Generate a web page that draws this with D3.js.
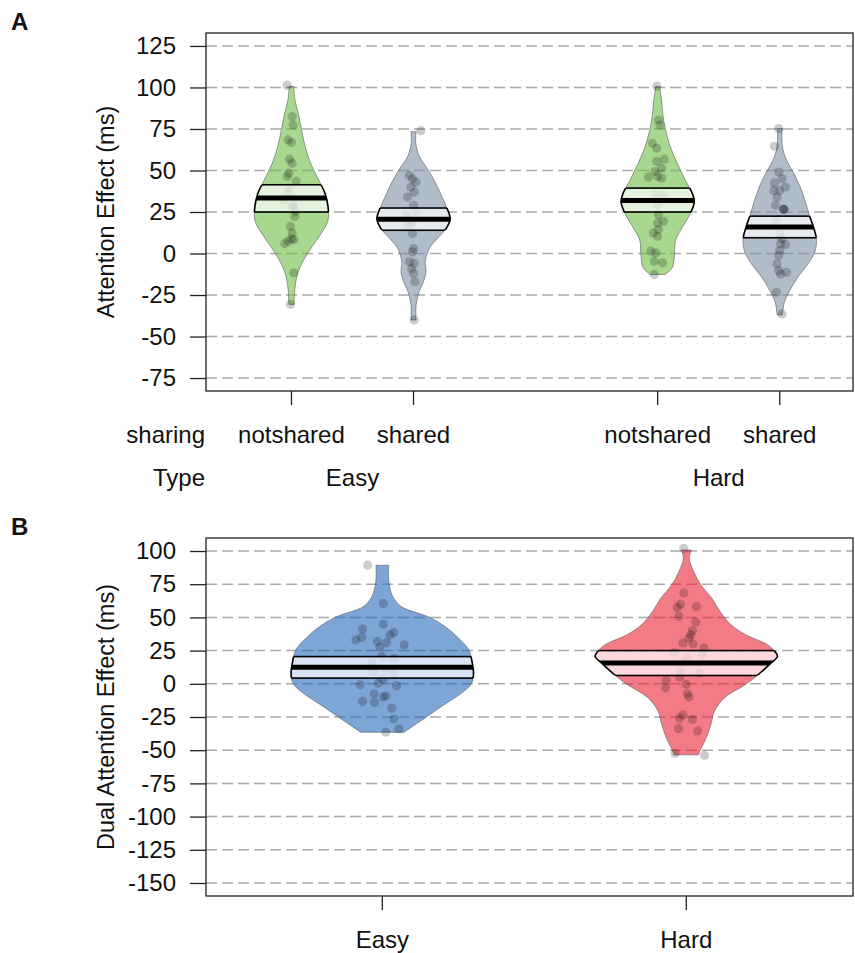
<!DOCTYPE html>
<html>
<head>
<meta charset="utf-8">
<script src="https://cdn.jsdelivr.net/npm/d3@7"></script>
<style>
  body { margin: 0; background: #fff; }
  text { font-family: "Liberation Sans", Arial, sans-serif; }
</style>
</head>
<body>
<script>
// ---- panel A data ----
var sharingLabels = ["notshared", "shared", "notshared", "shared"]
var typeLabels = ["Easy", "Hard"]
var beanPosA = [1, 2, 4, 5]
var typePosA = [1.5, 4.5]
var ticksA = [125, 100, 75, 50, 25, 0, -25, -50, -75]

// density outlines: [value, relative half width]
var densEasyNot = [[100.6, .06], [92, .10], [84, .19], [74, .28], [64, .38], [54, .53], [44, .75], [36, .92], [28, 1], [20, 1], [12, .81], [4, .56], [-4, .33], [-12, .17], [-20, .10], [-30.6, .07]]
var densEasyShared = [[73.4, .07], [67, .06], [59, .15], [51, .38], [43, .59], [35, .76], [27, .92], [21, 1], [15, .89], [9, .65], [3, .43], [-5, .32], [-11, .34], [-17, .27], [-23, .15], [-31, .07], [-40, .07]]
var densHardNot = [[100.6, .05], [92, .11], [84, .14], [74, .22], [64, .35], [54, .54], [44, .76], [36, .95], [31, 1], [24, .89], [16, .68], [8, .49], [0, .46], [-8, .41], [-10.5, .32], [-12.6, .2]]
var densHardShared = [[75.3, .06], [64, .075], [56, .19], [48, .39], [40, .56], [32, .69], [23, .81], [16, .92], [9, 1], [1.8, .97], [-6, .78], [-14, .5], [-22, .28], [-29, .13], [-36, .075], [-37, .07]]

// raw points (value) and their horizontal jitter (category units)
var ptsEasyNot = [101.4, 82.4, 77.4, 68.4, 66.8, 56.8, 54.4, 48.4, 46.4, 43.4, 39.4, 35.4, 32.4, 29.4, 28.4, 25.4, 22.4, 16.4, 12.4, 8.8, 8.4, 7.4, 6, -11.6, -30.6]
var jitEasyNot = [-.035, .006, .014, -.027, 0, -.016, .006, -.022, -.035, .039, -.022, -.027, -.063, .019, .006, .033, .027, -.008, .006, 0, .019, -.027, -.055, .019, -.008]
var ptsEasyShared = [74, 47, 45, 43, 40, 37, 34, 29, 25.4, 23, 19, 17, 12, 3, 1, -5, -6, -9, -12, -17, -40]
var jitEasyShared = [.06, -.035, -.008, .019, -.022, .006, -.049, 0, .019, -.055, -.008, -.049, -.008, 0, -.008, -.035, .006, -.016, 0, .011, .006]
var ptsHardNot = [100.8, 80.4, 77.4, 66.4, 63.4, 56.8, 55.4, 51.4, 49.4, 46.4, 46, 45.4, 36, 35.4, 29.4, 23.4, 19.4, 18.4, 14.4, 12.4, 10.4, 1.4, 0.4, -4.6, -5.6, -12.6]
var jitHardNot = [-.006, .006, .019, -.043, -.008, .055, -.008, .033, -.022, 0, -.076, .033, -.016, .047, 0, .006, .047, 0, .006, -.035, 0, -.055, -.016, -.027, .039, -.027]
var ptsHardShared = [75.3, 64.6, 49.1, 45.1, 42.5, 40, 38, 38, 34, 29, 26.6, 26.6, 26.6, 20, 11.9, 8.9, 5.9, 5.4, 1.8, -1.2, -6.2, -10.3, -11.3, -12.3, -23.4, -36.4]
var jitHardShared = [-.008, -.043, -.008, .019, -.043, .047, -.049, 0, -.022, -.035, .033, .033, .033, -.027, 0, .019, .006, .047, 0, -.008, -.022, -.008, .055, .006, -.027, .019]

var meansA = [33.4, 20.6, 32, 16]
var hdiLowA = [25, 14, 25, 9.5]
var hdiHighA = [41.4, 27.4, 39.4, 22.5]

// ---- panel B data ----
var typeLabelsB = ["Easy", "Hard"]
var beanPosB = [1, 2]
var ticksB = [100, 75, 50, 25, 0, -25, -50, -75, -100, -125, -150]

var densDualEasy = [[89.3, .07], [78, .07], [68, .10], [63, .14], [58, .21], [50, .52], [43, .69], [35.5, .82], [25.5, .95], [18, .98], [8, 1], [0.5, .98], [-7, .87], [-17, .65], [-27, .44], [-34.5, .28], [-36.5, .24]]
var densDualHard = [[100.75, .054], [94.5, .032], [84.5, .081], [74.5, .16], [64.5, .28], [54.5, .37], [44.5, .49], [37, .65], [29.5, .89], [24.5, .97], [20.75, 1], [14.5, .91], [7, .79], [-0.5, .65], [-10.5, .42], [-20.5, .31], [-30.5, .27], [-40.5, .22], [-50.5, .15], [-53.5, .135]]

var ptsDualEasy = [89.3, 60.5, 44.8, 41.3, 38.5, 36.8, 35, 33, 31.8, 31, 29.3, 27.5, 20.5, 18.8, 16.8, 10.5, 9.3, 6.8, 3, 0.5, -0.8, -1.5, -7.5, -9, -10, -13.3, -14, -18.3, -26.5, -34, -36.5]
var jitDualEasy = [-.048, .003, .003, -.065, .038, .025, -.068, -.087, -.016, .014, .072, -.008, -.002, .038, -.035, .014, -.03, .036, .003, -.013, -.073, .047, -.027, .012, .003, -.065, -.026, .031, .038, .054, .011]
var ptsDualHard = [102, 68.3, 60, 57.5, 58.3, 50.8, 46.5, 40, 37, 34.5, 30.8, 30, 27, 23.3, 22.5, 19.5, 9.5, 8.3, 5, 2.5, -0.5, -3, -7.5, -10, -23.5, -26, -26.8, -33.8, -35.5, -52.5, -53.8]
var jitDualHard = [-.008, -.008, -.019, -.03, .033, -.024, .031, .02, .014, .009, -.011, .022, .058, -.04, .053, .003, -.019, .042, -.022, -.066, 0, -.068, .003, .009, -.011, -.022, .02, -.026, .037, -.037, .06]

var meansB = [12.5, 15.75]
var hdiLowB = [4.3, 6.25]
var hdiHighB = [20.5, 25]

// colours
var colsA = ["rgb(110,190,68)", "rgb(123,143,167)", "rgb(110,190,68)", "rgb(123,143,167)"]
var colsB = ["rgb(38,107,187)", "rgb(235,35,52)"]

var W = 855, H = 953
var svg = d3.select("body").append("svg").attr("width", W).attr("height", H)
var defs = svg.append("defs")
var beanHalf = 0.3
var clipCount = 0
var labelSize = 24

function frame(top, bottom, y, ticks, title, letter) {
    var left = 206, right = 853
    // grid
    svg.append("g").selectAll("line").data(ticks).enter().append("line")
        .attr("x1", left).attr("x2", right)
        .attr("y1", function (d) { return y(d) }).attr("y2", function (d) { return y(d) })
        .attr("stroke", "#a9a9a9").attr("stroke-width", 1.5).attr("stroke-dasharray", "11,5")
    // y axis
    var ax = svg.append("g").attr("transform", "translate(" + left + ",0)")
        .call(d3.axisLeft(y).tickValues(ticks).tickSize(16).tickPadding(14).tickFormat(function (d) { return String(d) }))
    ax.select(".domain").remove()
    ax.selectAll("line").attr("stroke", "#222").attr("stroke-width", 1.3)
    ax.selectAll("text").attr("font-size", labelSize).attr("fill", "#111").style("font-family", "Liberation Sans, Arial, sans-serif")
    // box
    svg.append("rect").attr("x", left).attr("y", top).attr("width", right - left).attr("height", bottom - top)
        .attr("fill", "none").attr("stroke", "#222").attr("stroke-width", 1.3)
    svg.append("text").attr("transform", "translate(106," + ((top + bottom) / 2) + ") rotate(-90)")
        .attr("text-anchor", "middle").attr("dy", "0.35em").attr("font-size", 23.5).attr("fill", "#111").text(title)
    svg.append("text").attr("x", 11).attr("y", top - 3).attr("font-size", 24).attr("font-weight", "bold").attr("fill", "#111").text(letter)
}

function drawBean(layer, x, y, pos, dens, pts, jit, mean, lo, hi, col) {
    var cx = x(pos)
    var id = clipCount++
    var area = d3.area().curve(d3.curveCatmullRom)
        .y(function (d) { return y(d[0]) })
        .x0(function (d) { return 2 * cx - x(pos + d[1] * beanHalf) })
        .x1(function (d) { return x(pos + d[1] * beanHalf) })
    var dPath = area(dens)
    defs.append("clipPath").attr("id", "vclip" + id).append("path").attr("d", dPath)
    defs.append("clipPath").attr("id", "bclip" + id).append("rect")
        .attr("x", x(pos - 0.5)).attr("width", x(pos + 0.5) - x(pos - 0.5))
        .attr("y", y(hi)).attr("height", y(lo) - y(hi))

    layer.append("path").attr("d", dPath).attr("fill", col).attr("fill-opacity", 0.6)
        .attr("stroke", "rgb(80,80,80)").attr("stroke-opacity", 0.55).attr("stroke-width", 1)

    layer.append("g").selectAll("circle").data(pts).enter().append("circle")
        .attr("cx", function (d, i) { return x(pos + jit[i]) })
        .attr("cy", function (d) { return y(d) })
        .attr("r", 4.6).attr("fill", "#000").attr("fill-opacity", 0.2)

    // inference band (clipped to bean)
    layer.append("rect").attr("clip-path", "url(#vclip" + id + ")")
        .attr("x", x(pos - 0.5)).attr("width", x(pos + 0.5) - x(pos - 0.5))
        .attr("y", y(hi)).attr("height", y(lo) - y(hi))
        .attr("fill", "#fff").attr("fill-opacity", 0.7).attr("stroke", "#000").attr("stroke-width", 1.6)
    layer.append("path").attr("d", dPath).attr("clip-path", "url(#bclip" + id + ")")
        .attr("fill", "none").attr("stroke", "#000").attr("stroke-width", 1.6)
    // mean line
    layer.append("line").attr("clip-path", "url(#vclip" + id + ")")
        .attr("x1", x(pos - 0.5)).attr("x2", x(pos + 0.5))
        .attr("y1", y(mean)).attr("y2", y(mean))
        .attr("stroke", "#000").attr("stroke-width", 5)
}

// ---------- Panel A ----------
var topA = 33, bottomA = 391
var yA = d3.scaleLinear().domain([-82.8, 132.8]).range([bottomA, topA])
var xA = d3.scaleLinear().domain([0.3, 5.7]).range([206, 865.2])
frame(topA, bottomA, yA, ticksA, "Attention Effect (ms)", "A")

var densA = [densEasyNot, densEasyShared, densHardNot, densHardShared]
var ptsA = [ptsEasyNot, ptsEasyShared, ptsHardNot, ptsHardShared]
var jitA = [jitEasyNot, jitEasyShared, jitHardNot, jitHardShared]
var layerA = svg.append("g")
beanPosA.forEach(function (p, i) {
    drawBean(layerA, xA, yA, p, densA[i], ptsA[i], jitA[i], meansA[i], hdiLowA[i], hdiHighA[i], colsA[i])
})

svg.append("g").selectAll("line").data(beanPosA).enter().append("line")
    .attr("x1", function (d) { return xA(d) }).attr("x2", function (d) { return xA(d) })
    .attr("y1", bottomA).attr("y2", bottomA + 14).attr("stroke", "#222").attr("stroke-width", 1.3)
svg.append("g").selectAll("text").data(sharingLabels).enter().append("text")
    .attr("x", function (d, i) { return xA(beanPosA[i]) }).attr("y", 443)
    .attr("text-anchor", "middle").attr("font-size", labelSize).attr("fill", "#111").text(function (d) { return d })
svg.append("g").selectAll("text").data(typeLabels).enter().append("text")
    .attr("x", function (d, i) { return xA(typePosA[i]) }).attr("y", 486)
    .attr("text-anchor", "middle").attr("font-size", labelSize).attr("fill", "#111").text(function (d) { return d })
svg.append("text").attr("x", 205).attr("y", 443).attr("text-anchor", "end").attr("font-size", labelSize).attr("fill", "#111").text("sharing")
svg.append("text").attr("x", 205).attr("y", 486).attr("text-anchor", "end").attr("font-size", labelSize).attr("fill", "#111").text("Type")

// ---------- Panel B ----------
var topB = 538, bottomB = 896
var yB = d3.scaleLinear().domain([-159.8, 109.8]).range([bottomB, topB])
var xB = d3.scaleLinear().domain([0.42, 2.58]).range([206, 862.6])
frame(topB, bottomB, yB, ticksB, "Dual Attention Effect (ms)", "B")

var densB = [densDualEasy, densDualHard]
var ptsB = [ptsDualEasy, ptsDualHard]
var jitB = [jitDualEasy, jitDualHard]
var layerB = svg.append("g")
beanPosB.forEach(function (p, i) {
    drawBean(layerB, xB, yB, p, densB[i], ptsB[i], jitB[i], meansB[i], hdiLowB[i], hdiHighB[i], colsB[i])
})

svg.append("g").selectAll("line").data(beanPosB).enter().append("line")
    .attr("x1", function (d) { return xB(d) }).attr("x2", function (d) { return xB(d) })
    .attr("y1", bottomB).attr("y2", bottomB + 14).attr("stroke", "#222").attr("stroke-width", 1.3)
svg.append("g").selectAll("text").data(typeLabelsB).enter().append("text")
    .attr("x", function (d, i) { return xB(beanPosB[i]) }).attr("y", 948)
    .attr("text-anchor", "middle").attr("font-size", labelSize).attr("fill", "#111").text(function (d) { return d })
</script>
</body>
</html>
